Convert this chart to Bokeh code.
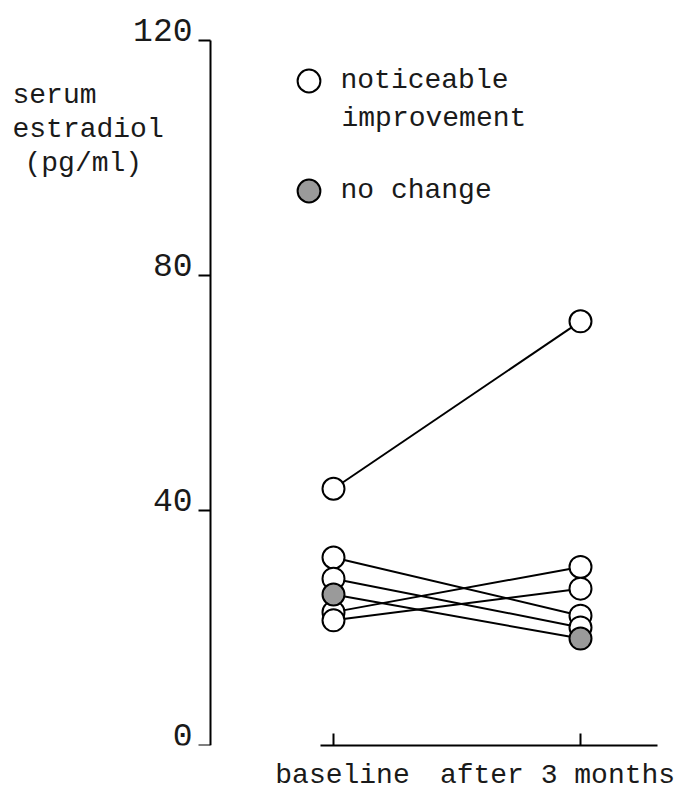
from bokeh.plotting import figure
from bokeh.models import (Range1d, LinearAxis, FixedTicker, Legend, LegendItem,
                          Label, ColumnDataSource)
from bokeh.embed import file_html
from bokeh.resources import INLINE

# ---------------- data ----------------
categories = ["baseline", "after 3 months"]
y_ticks = [0, 40, 80, 120]
baseline_improved = [43.7, 32.0, 28.4, 22.7, 21.3]
after_improved = [72.2, 22.1, 20.1, 30.4, 26.7]
baseline_nochange = [25.7]
after_nochange = [18.2]
legend_labels = ["noticeable", "no change"]
legend_continuation = "improvement"
y_title_lines = ["serum", "estradiol", "(pg/ml)"]

FONT = "Liberation Mono"
TXT = "#1a1a1a"

# ---------------- layout (page pixels -> data) ----------------
W, H = 675, 793
PX_X = 247.0          # px per category step
PX_Y = 5.875          # px per pg/ml
X_REF0 = 333          # page x of first category
Y_REF0 = 745          # page y of value 0 (frame bottom)


def xd(px):
    return (px - X_REF0) / PX_X


def yd(py):
    return (Y_REF0 - py) / PX_Y


y_end = yd(0)
p = figure(width=W, height=H, output_backend="svg", toolbar_location=None,
           x_range=Range1d(xd(0), xd(W)), y_range=Range1d(0, y_end),
           x_axis_type=None, y_axis_type=None,
           min_border_left=0, min_border_right=0, min_border_top=0,
           min_border_bottom=H - Y_REF0, outline_line_color=None)
p.background_fill_color = "white"
p.border_fill_color = "white"

# y axis line + ticks (fixed at page x = 210)
shift = 11 / PX_Y
p.extra_y_ranges = {"ylab": Range1d(-shift, y_end - shift)}
yax = LinearAxis(ticker=FixedTicker(ticks=y_ticks, minor_ticks=[]), bounds=(0, 120),
                 fixed_location=xd(210),
                 axis_line_width=2, axis_line_color="black",
                 major_tick_line_width=2, major_tick_line_color="black",
                 major_tick_out=12, major_tick_in=0,
                 minor_tick_line_color=None,
                 major_label_text_font_size="0px",
                 major_label_overrides={t: "" for t in y_ticks})
p.add_layout(yax, "left")
# y tick labels, sitting on their ticks
ylab = LinearAxis(ticker=FixedTicker(ticks=y_ticks, minor_ticks=[]), y_range_name="ylab",
                  fixed_location=xd(210),
                  axis_line_color=None, major_tick_line_color=None,
                  minor_tick_line_color=None, major_tick_out=12, major_tick_in=0,
                  major_label_text_font=FONT, major_label_text_font_size="33px",
                  major_label_text_color=TXT, major_label_standoff=6)
p.add_layout(ylab, "left")

# x axis: line + inward ticks
xax = LinearAxis(ticker=FixedTicker(ticks=[0, 1], minor_ticks=[]),
                 bounds=(xd(320), xd(657)),
                 axis_line_width=2, axis_line_color="black",
                 major_tick_line_width=2, major_tick_line_color="black",
                 major_tick_in=12, major_tick_out=0,
                 minor_tick_line_color=None,
                 major_label_text_font_size="0px", major_label_standoff=0,
                 major_label_overrides={0: "", 1: ""})
p.add_layout(xax, "below")

# x axis: category labels
label_pos = [xd(342), xd(557)]
xlab = LinearAxis(ticker=FixedTicker(ticks=label_pos, minor_ticks=[]),
                  axis_line_color=None, major_tick_line_color=None,
                  minor_tick_line_color=None, major_tick_in=0, major_tick_out=0,
                  major_label_overrides={label_pos[0]: categories[0],
                                         label_pos[1]: categories[1]},
                  major_label_text_font=FONT, major_label_text_font_size="28px",
                  major_label_text_color=TXT,
                  major_label_standoff=14)
p.add_layout(xlab, "below")

# ---------------- marks ----------------
n_imp = len(baseline_improved)
n_nc = len(baseline_nochange)
seg_src = ColumnDataSource(dict(
    x0=[0] * (n_imp + n_nc), x1=[1] * (n_imp + n_nc),
    y0=baseline_improved + baseline_nochange,
    y1=after_improved + after_nochange))
p.segment(x0="x0", y0="y0", x1="x1", y1="y1", source=seg_src,
          line_color="black", line_width=2)

imp_src = ColumnDataSource(dict(x=[0] * n_imp + [1] * n_imp,
                                y=baseline_improved + after_improved))
nc_src = ColumnDataSource(dict(x=[0] * n_nc + [1] * n_nc,
                               y=baseline_nochange + after_nochange))
r_open = p.scatter(x="x", y="y", source=imp_src, size=22, marker="circle",
                   fill_color="white", line_color="black", line_width=2)
r_fill = p.scatter(x="x", y="y", source=nc_src, size=22, marker="circle",
                   fill_color="#9a9a9a", line_color="black", line_width=2)

# ---------------- legend ----------------
legend = Legend(items=[LegendItem(label=legend_labels[0], renderers=[r_open]),
                       LegendItem(label=legend_labels[1], renderers=[r_fill])],
                location=(279.5, Y_REF0 - 218.5), orientation="vertical",
                border_line_color=None, background_fill_alpha=0,
                glyph_width=57, glyph_height=57, label_standoff=4,
                padding=0, margin=0, spacing=53,
                label_text_font=FONT, label_text_font_size="28px",
                label_text_color=TXT)
p.add_layout(legend)
p.add_layout(Label(x=xd(341), y=yd(118), text=legend_continuation, text_font=FONT,
                   text_font_size="28px", text_color=TXT, text_align="left",
                   text_baseline="alphabetic"))

# ---------------- y title ----------------
title_x = [xd(12), xd(12), xd(24)]
title_y = [yd(95), yd(129), yd(163)]
for t, tx, ty in zip(y_title_lines, title_x, title_y):
    p.add_layout(Label(x=tx, y=ty, text=t, text_font=FONT, text_font_size="28px",
                       text_color=TXT, text_align="left",
                       text_baseline="alphabetic"))

open("out.html", "w").write(file_html(p, INLINE))
